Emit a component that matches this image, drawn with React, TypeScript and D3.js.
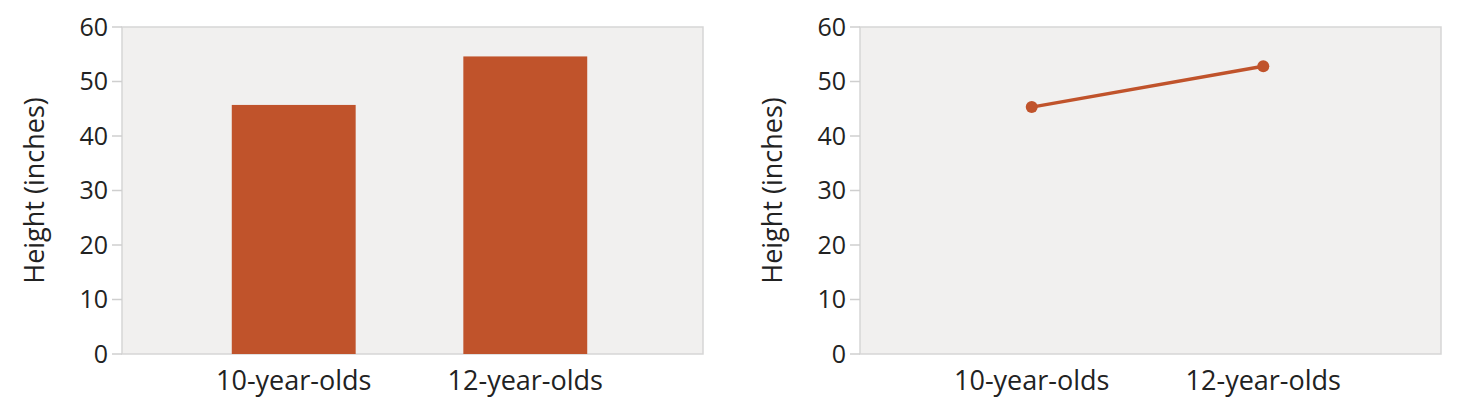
import React from 'react';
import * as d3 from 'd3';

const categories = ['10-year-olds', '12-year-olds'];
const barValues = [45.7, 54.6];
const lineValues = [45.3, 52.8];
const yTicks = [0, 10, 20, 30, 40, 50, 60];

const W = 1472;
const H = 420;
const TOP = 27;
const BOTTOM = 354;
const PANELS = [122, 860];
const PW = 581;
const COLOR = '#c0532b';
const FONT = "'Open Sans', 'Noto Sans', sans-serif";

function Panel({x0, kind}: {x0: number; kind: 'bar' | 'line'}) {
  const xScale = d3
    .scaleBand<string>()
    .domain(categories)
    .range([x0 - 6, x0 + PW])
    .paddingInner(0.465)
    .paddingOuter(0.5);
  const yScale = d3.scaleLinear().domain([0, 60]).range([BOTTOM, TOP]);
  const values = kind === 'bar' ? barValues : lineValues;
  const cx = (c: string) => (xScale(c) as number) + xScale.bandwidth() / 2;
  const line = d3
    .line<number>()
    .x((_, i) => cx(categories[i]))
    .y(d => yScale(d));

  return (
    <g fontFamily={FONT} fill="#222">
      <rect x={x0} y={TOP} width={PW} height={BOTTOM - TOP} fill="#f1f0ef" stroke="#d6d6d6" strokeWidth={1.5} />
      {yTicks.map(t => (
        <g key={t}>
          <line x1={x0 - 10} x2={x0} y1={yScale(t)} y2={yScale(t)} stroke="#cfcfcf" strokeWidth={1.5} />
          <text x={x0 - 14} y={yScale(t)} dy="0.35em" textAnchor="end" fontSize={25}>
            {t}
          </text>
        </g>
      ))}
      {kind === 'bar' &&
        values.map((v, i) => (
          <rect
            key={i}
            x={xScale(categories[i])}
            y={yScale(v)}
            width={xScale.bandwidth()}
            height={BOTTOM - yScale(v)}
            fill={COLOR}
          />
        ))}
      {kind === 'line' && (
        <g>
          <path d={line(values) || ''} fill="none" stroke={COLOR} strokeWidth={3.5} />
          {values.map((v, i) => (
            <circle key={i} cx={cx(categories[i])} cy={yScale(v)} r={6} fill={COLOR} />
          ))}
        </g>
      )}
      {categories.map(c => (
        <text key={c} x={cx(c)} y={BOTTOM + 36} textAnchor="middle" fontSize={27}>
          {c}
        </text>
      ))}
      <text
        transform={`translate(${x0 - 78},${(TOP + BOTTOM) / 2}) rotate(-90)`}
        textAnchor="middle"
        fontSize={27}
      >
        Height (inches)
      </text>
    </g>
  );
}

export default function App() {
  return (
    <svg width={W} height={H} style={{position: 'absolute', left: 0, top: 0, background: '#fff'}}>
      <Panel x0={PANELS[0]} kind="bar" />
      <Panel x0={PANELS[1]} kind="line" />
    </svg>
  );
}
